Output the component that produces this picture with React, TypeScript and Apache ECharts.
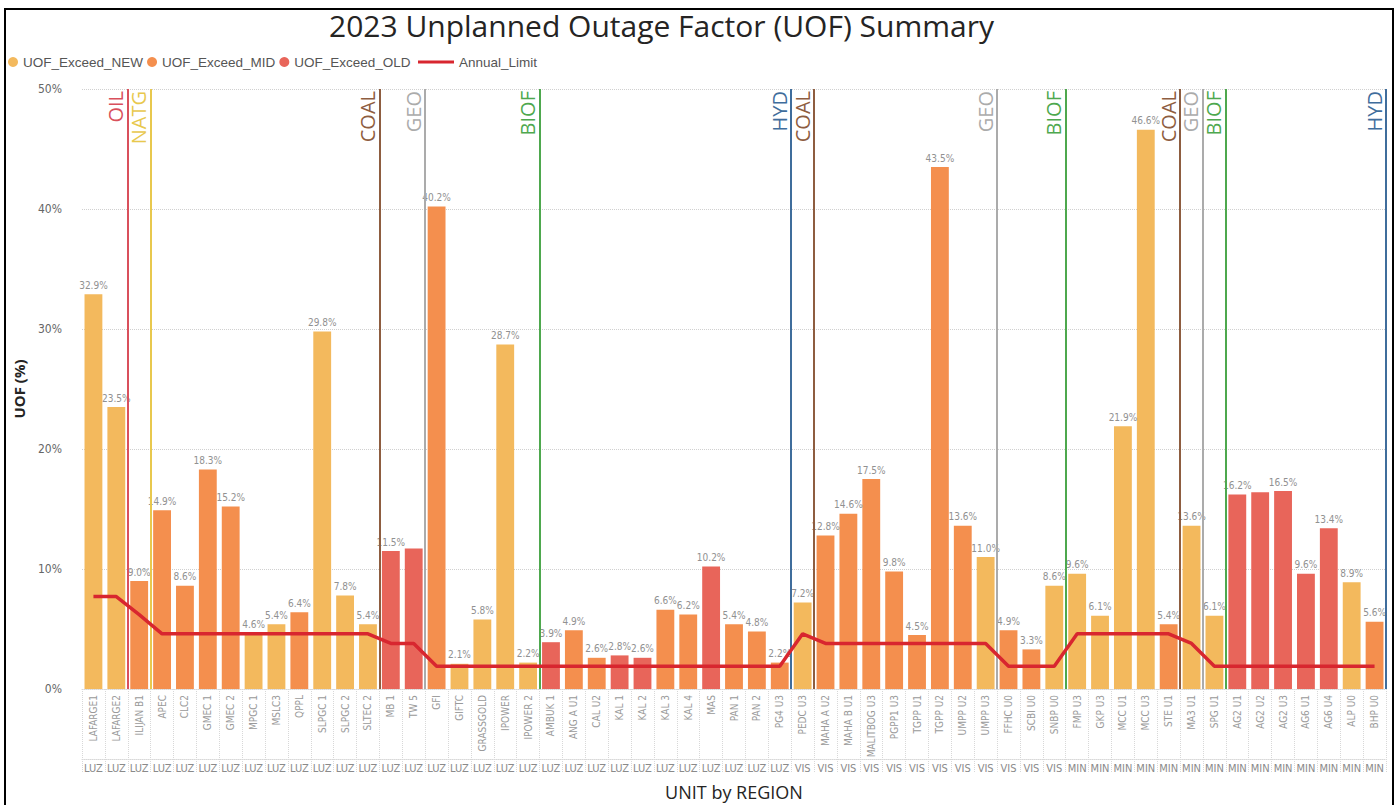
import React, { useEffect, useRef } from "react";
import * as echarts from "echarts";

const units = [
  "LAFARGE1", "LAFARGE2", "ILIJAN B1", "APEC", "CLC2", "GMEC 1", "GMEC 2", "MPGC 1", "MSLC3", "QPPL",
  "SLPGC 1", "SLPGC 2", "SLTEC 2", "MB 1", "TW 5", "GFI", "GIFTC", "GRASSGOLD", "IPOWER", "IPOWER 2",
  "AMBUK 1", "ANG A U1", "CAL U2", "KAL 1", "KAL 2", "KAL 3", "KAL 4", "MAS", "PAN 1", "PAN 2",
  "PG4 U3", "PEDC U3", "MAHA A U2", "MAHA B U1", "MALITBOG U3", "PGPP1 U3", "TGPP U1", "TGPP U2", "UMPP U2", "UMPP U3",
  "FFHC U0", "SCBI U0", "SNBP U0", "FMP U3", "GKP U3", "MCC U1", "MCC U3", "STE U1", "MA3 U1", "SPG U1",
  "AG2 U1", "AG2 U2", "AG2 U3", "AG6 U1", "AG6 U4", "ALP U0", "BHP U0",
];

const regions = [
  "LUZ", "LUZ", "LUZ", "LUZ", "LUZ", "LUZ", "LUZ", "LUZ", "LUZ", "LUZ",
  "LUZ", "LUZ", "LUZ", "LUZ", "LUZ", "LUZ", "LUZ", "LUZ", "LUZ", "LUZ",
  "LUZ", "LUZ", "LUZ", "LUZ", "LUZ", "LUZ", "LUZ", "LUZ", "LUZ", "LUZ",
  "LUZ", "VIS", "VIS", "VIS", "VIS", "VIS", "VIS", "VIS", "VIS", "VIS",
  "VIS", "VIS", "VIS", "MIN", "MIN", "MIN", "MIN", "MIN", "MIN", "MIN",
  "MIN", "MIN", "MIN", "MIN", "MIN", "MIN", "MIN",
];

const fuels = [
  "OIL", "OIL", "NATG", "COAL", "COAL", "COAL", "COAL", "COAL", "COAL", "COAL",
  "COAL", "COAL", "COAL", "GEO", "GEO", "BIOF", "BIOF", "BIOF", "BIOF", "BIOF",
  "HYD", "HYD", "HYD", "HYD", "HYD", "HYD", "HYD", "HYD", "HYD", "HYD",
  "HYD", "COAL", "GEO", "GEO", "GEO", "GEO", "GEO", "GEO", "GEO", "GEO",
  "BIOF", "BIOF", "BIOF", "COAL", "COAL", "COAL", "COAL", "COAL", "GEO", "BIOF",
  "HYD", "HYD", "HYD", "HYD", "HYD", "HYD", "HYD",
];

const ageGroups = [
  "NEW", "NEW", "MID", "MID", "MID", "MID", "MID", "NEW", "NEW", "MID",
  "NEW", "NEW", "NEW", "OLD", "OLD", "MID", "NEW", "NEW", "NEW", "NEW",
  "OLD", "MID", "MID", "OLD", "OLD", "MID", "MID", "OLD", "MID", "MID",
  "MID", "NEW", "MID", "MID", "MID", "MID", "MID", "MID", "MID", "NEW",
  "MID", "MID", "NEW", "NEW", "NEW", "NEW", "NEW", "MID", "NEW", "NEW",
  "OLD", "OLD", "OLD", "OLD", "OLD", "NEW", "MID",
];

const uofValues = [
  32.9, 23.5, 9.0, 14.9, 8.6, 18.3, 15.2, 4.6, 5.4, 6.4,
  29.8, 7.8, 5.4, 11.5, 11.7, 40.2, 2.1, 5.8, 28.7, 2.2,
  3.9, 4.9, 2.6, 2.8, 2.6, 6.6, 6.2, 10.2, 5.4, 4.8,
  2.2, 7.2, 12.8, 14.6, 17.5, 9.8, 4.5, 43.5, 13.6, 11.0,
  4.9, 3.3, 8.6, 9.6, 6.1, 21.9, 46.6, 5.4, 13.6, 6.1,
  16.2, 16.4, 16.5, 9.6, 13.4, 8.9, 5.6,
];

const fuelNames = ["OIL", "NATG", "COAL", "GEO", "BIOF", "HYD"];
const fuelLimits = [7.7, 6.2, 4.6, 3.8, 1.9, 1.9];
const fuelColors = ["#D9505C", "#E8C84E", "#8E5D40", "#ABABAB", "#4EA84E", "#3F6D9C"];

const hiddenLabelUnits = ["TW 5", "AG2 U2"];

const ageNames = ["NEW", "MID", "OLD"];
const ageColors = ["#F3B95D", "#F48F4E", "#E8655A"];
const limitColor = "#D8262F";

const NARROW = "'Liberation Sans Narrow', 'DejaVu Sans Condensed', 'Roboto', sans-serif";
const MAIN = "'Open Sans', 'Noto Sans', sans-serif";
const LEG = "'Liberation Sans', Arial, sans-serif";

export default function App() {
  const ref = useRef<HTMLDivElement>(null);

  useEffect(() => {
    if (!ref.current) return;
    const chart = echarts.init(ref.current, null, { renderer: "svg" });
    const n = units.length;

    const barSeries = ageNames.map((age, k) => ({
      name: "UOF_Exceed_" + age,
      type: "bar",
      stack: "uof",
      xAxisIndex: 0,
      yAxisIndex: 0,
      barCategoryGap: "22%",
      itemStyle: { color: ageColors[k] },
      label: {
        show: true,
        position: "top",
        distance: 4,
        fontFamily: NARROW,
        fontSize: 10,
        color: "#919191",
        formatter: (p: any) => (p.value == null ? "" : Number(p.value).toFixed(1) + "%"),
      },
      data: uofValues.map((v, i) => {
        if (ageGroups[i] !== age) return null;
        if (hiddenLabelUnits.includes(units[i])) return { value: v, label: { show: false } };
        return v;
      }),
    }));

    const limitSeries = {
      name: "Annual_Limit",
      type: "line",
      xAxisIndex: 0,
      yAxisIndex: 0,
      symbol: "none",
      z: 5,
      lineStyle: { color: limitColor, width: 3.5 },
      itemStyle: { color: limitColor },
      data: fuels.map((f) => fuelLimits[fuelNames.indexOf(f)]),
    };

    const boundaries: { pos: number; fuel: string }[] = [];
    for (let i = 0; i < n; i++) {
      if (i === n - 1 || fuels[i] !== fuels[i + 1]) boundaries.push({ pos: i + 0.5, fuel: fuels[i] });
    }

    const boundarySeries = {
      name: "fuel_boundaries",
      type: "scatter",
      xAxisIndex: 2,
      yAxisIndex: 0,
      symbolSize: 0,
      silent: true,
      data: boundaries.map((b) => [b.pos, 0]),
      markLine: {
        symbol: "none",
        silent: true,
        animation: false,
        data: boundaries.map((b) => {
          const c = fuelColors[fuelNames.indexOf(b.fuel)];
          return {
            xAxis: b.pos,
            lineStyle: { color: c, width: 2, type: "solid" },
            label: {
              show: true,
              formatter: b.fuel,
              position: "insideEndTop",
              distance: 2,
              padding: 0,
              color: c,
              fontFamily: MAIN,
              fontSize: 20,
            },
          };
        }),
      },
    };

    chart.setOption({
      animation: false,
      title: {
        text: "2023 Unplanned Outage Factor (UOF) Summary",
        left: 324,
        top: 5,
        textStyle: { fontFamily: MAIN, fontSize: 30, fontWeight: "normal", color: "#252423" },
      },
      legend: [
        {
          left: 8,
          top: 55,
          padding: 0,
          icon: "circle",
          itemWidth: 10,
          itemHeight: 10,
          itemGap: 4,
          textStyle: { fontFamily: LEG, fontSize: 13.5, color: "#555" },
          data: ageNames.map((a) => "UOF_Exceed_" + a),
        },
        {
          left: 418,
          top: 55,
          padding: 0,
          icon: "rect",
          itemWidth: 36,
          itemHeight: 3,
          textStyle: { fontFamily: LEG, fontSize: 13.5, color: "#555" },
          data: ["Annual_Limit"],
        },
      ],
      grid: { left: 82, right: 13, top: 89, bottom: 116, containLabel: false, outerBoundsMode: "none" },
      xAxis: [
        {
          type: "category",
          data: units,
          position: "bottom",
          axisLine: { show: true, lineStyle: { color: "#d8d8d8", type: "dotted" } },
          axisTick: { show: true, length: 84, lineStyle: { color: "#d8d8d8", type: "dotted" } },
          axisLabel: {
            interval: 0,
            rotate: 90,
            margin: 6,
            fontFamily: NARROW,
            fontSize: 10,
            color: "#9a9a9a",
          },
        },
        {
          type: "category",
          data: regions,
          position: "bottom",
          offset: 70,
          axisLine: { show: true, lineStyle: { color: "#d8d8d8", type: "dotted" } },
          axisTick: { show: false },
          axisLabel: { interval: 0, margin: 4, fontFamily: NARROW, fontSize: 11, color: "#8a8a8a" },
          name: "UNIT by REGION",
          nameLocation: "middle",
          nameGap: 24,
          nameTextStyle: { fontFamily: MAIN, fontSize: 18, color: "#252423" },
        },
        {
          type: "value",
          min: -0.5,
          max: n - 0.5,
          show: false,
        },
      ],
      yAxis: {
        type: "value",
        min: 0,
        max: 50,
        interval: 10,
        name: "UOF (%)",
        nameLocation: "middle",
        nameGap: 56,
        nameRotate: 90,
        nameTextStyle: { fontFamily: MAIN, fontSize: 15, fontWeight: "bold", color: "#252423" },
        axisLine: { show: false },
        axisTick: { show: false },
        axisLabel: { formatter: "{value}%", margin: 20, fontFamily: NARROW, fontSize: 12, color: "#666" },
        splitLine: { lineStyle: { color: "#d0d0d0", type: "dotted" } },
      },
      series: [...barSeries, limitSeries, boundarySeries],
    });

    return () => chart.dispose();
  }, []);

  return (
    <div style={{ position: "fixed", left: 0, top: 0, width: 1399, height: 805, background: "#fff" }}>
      <div
        style={{
          position: "absolute",
          left: 4,
          top: 8,
          width: 1390,
          height: 810,
          border: "2px solid #000",
          boxSizing: "border-box",
        }}
      />
      <div ref={ref} style={{ position: "absolute", left: 0, top: 0, width: 1399, height: 805 }} />
    </div>
  );
}
